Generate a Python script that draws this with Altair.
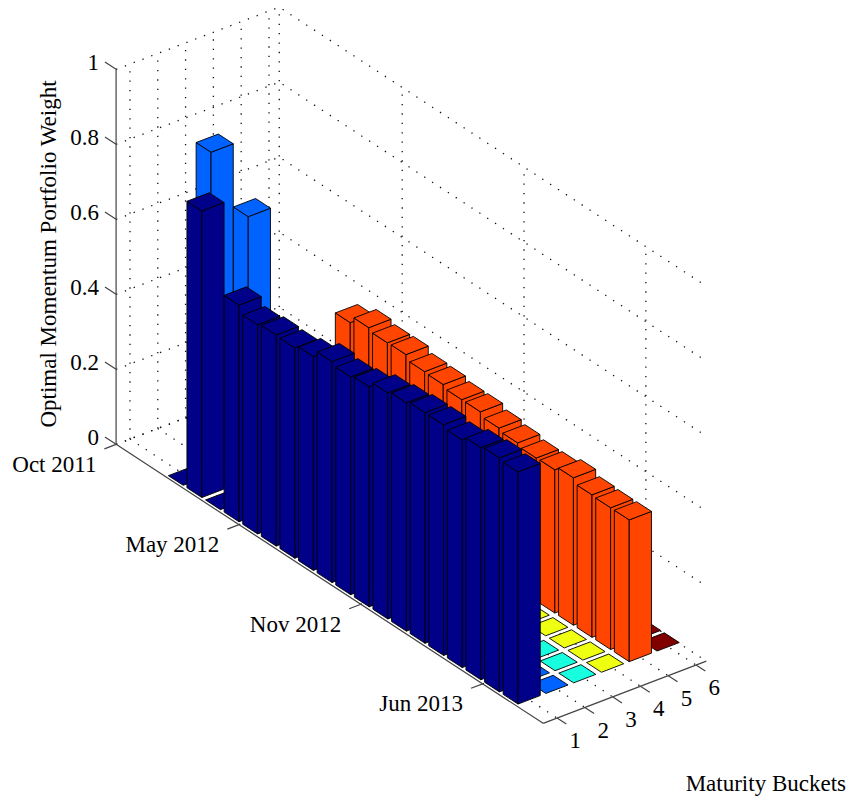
import altair as alt

# ---- values ----
periods = list(range(1, 20))
buckets = [1, 2, 3, 4, 5, 6]
w1 = [0, .764, 0, .578, .558, .563, .561, .570, .589, .581, .587, .603, .609, .615, .615, .607, .619, .624, .619]
w2 = [.86, 0, .753, 0, 0, 0, 0, 0, 0, 0, 0, 0, 0, 0, 0, 0, 0, 0, 0]
w3 = [0] * 19
w4 = [0] * 19
w5 = [.14, .236, .247, .418, .437, .429, .43, .417, .415, .407, .407, .396, .389, .381, .382, .393, .38, .378, .378]
w6 = [0] * 19
series = [w1, w2, w3, w4, w5, w6]
colors = ["#000088", "#0062FF", "#18FFE0", "#EEFF12", "#FF4500", "#800000"]
z_ticks = [0, .2, .4, .6, .8, 1]
z_labels = ["0", "0.2", "0.4", "0.6", "0.8", "1"]
t_ticks = [-2.06, 4.55, 11.1, 17.65]
t_labels = ["Oct 2011", "May 2012", "Nov 2012", "Jun 2013"]
t_lim = (-2.06, 20.9)
m_lim = (0.5, 6.37)
bar_width = 0.8
font = "Liberation Serif"
font_size = 23
W, H = 839, 788


def P(t, m, z=0.0):
    """Orthographic projection of (period, bucket, weight) to chart pixels."""
    return [140.5 + 18.6 * t + 27.8 * m - 8, 474.7 + 12.15 * t - 10.6 * m - 375 * z - 8]


def feat(coords, kind="Polygon", **props):
    geom = coords + [coords[0]] if kind == "Polygon" else coords
    return {"type": "Feature", "properties": props,
            "geometry": {"type": kind, "coordinates": [geom] if kind == "Polygon" else geom}}


t0, t1 = t_lim
m0, m1 = m_lim

# walls and floor grid
grid = []
for z in z_ticks:
    grid.append(feat([P(t0, m0, z), P(t0, m1, z), P(t1, m1, z)], "LineString"))
for m in buckets:
    grid.append(feat([P(t0, m, 0), P(t0, m, 1)], "LineString"))
    grid.append(feat([P(t0, m, 0), P(t1, m, 0)], "LineString"))
for t in t_ticks:
    grid.append(feat([P(t, m1, 0), P(t, m1, 1)], "LineString"))
    grid.append(feat([P(t, m0, 0), P(t, m1, 0)], "LineString"))

# axes
TICK_M = 0.42
TICK_T = 0.5
TICK_Z = 0.6
axes = [feat([P(t0, m0, 0), P(t0, m0, 1)], "LineString"),
        feat([P(t0, m0, 0), P(t1, m0, 0)], "LineString"),
        feat([P(t1, m0, 0), P(t1, m1, 0)], "LineString")]
for z in z_ticks:
    axes.append(feat([P(t0, m0, z), P(t0 - TICK_Z, m0, z)], "LineString"))
for t in t_ticks:
    axes.append(feat([P(t, m0, 0), P(t, m0 - TICK_M, 0)], "LineString"))
for m in buckets:
    axes.append(feat([P(t1, m, 0), P(t1 + TICK_T, m, 0)], "LineString"))

# bars, painted back to front
faces = []
hw = bar_width / 2
for mi in reversed(range(6)):
    m = buckets[mi]
    for ti, t in enumerate(periods):
        v = series[mi][ti]
        c = colors[mi]
        a, b = t - hw, t + hw
        l, r = m - hw, m + hw
        if v > 0:
            faces.append(feat([P(a, l, 0), P(b, l, 0), P(b, l, v), P(a, l, v)], fill=c))
            faces.append(feat([P(b, l, 0), P(b, r, 0), P(b, r, v), P(b, l, v)], fill=c))
        faces.append(feat([P(a, l, v), P(b, l, v), P(b, r, v), P(a, r, v)], fill=c))

# labels
texts = []
for z, s in zip(z_ticks, z_labels):
    p = P(t0 - TICK_Z, m0, z)
    texts.append({"x": p[0] - 6, "y": p[1] + 0.5, "s": s, "a": "right"})
for t, s in zip(t_ticks, t_labels):
    p = P(t, m0 - TICK_M, 0)
    texts.append({"x": p[0] - 8, "y": p[1] + 16, "s": s, "a": "right"})
for m in buckets:
    p = P(t1 + TICK_T, m, 0)
    texts.append({"x": p[0] + 9, "y": p[1] + 17, "s": str(m), "a": "center"})
texts.append({"x": 838, "y": 776, "s": "Maturity Buckets", "a": "right"})

grid_layer = alt.Chart(alt.Data(values=grid)).mark_geoshape(
    filled=False, stroke="#111111", strokeWidth=1.3, strokeDash=[1.3, 8.1]
).project(type="identity", scale=1, translate=[0, 0])
axes_layer = alt.Chart(alt.Data(values=axes)).mark_geoshape(
    filled=False, stroke="#444444", strokeWidth=1.2
).project(type="identity", scale=1, translate=[0, 0])
bars_layer = alt.Chart(alt.Data(values=faces)).mark_geoshape(
    stroke="#000000", strokeWidth=0.9, strokeJoin="round"
).encode(
    fill=alt.Fill("properties.fill:N", scale=None)
).project(type="identity", scale=1, translate=[0, 0])

xs = alt.X("x:Q", scale=alt.Scale(domain=[0, W], range=[0, W]), axis=None)
ys = alt.Y("y:Q", scale=alt.Scale(domain=[0, H], range=[0, H]), axis=None)
enc = dict(x=xs, y=ys, text="s:N")
layers = []
for anchor in ["right", "center"]:
    layers.append(
        alt.Chart(alt.Data(values=[d for d in texts if d["a"] == anchor])).mark_text(
            font=font, fontSize=font_size, color="#000000", align=anchor, baseline="middle"
        ).encode(**enc)
    )
ylabel = alt.Chart(alt.Data(values=[{"x": 41, "y": 246, "s": "Optimal Momentum Portfolio Weight"}])).mark_text(
    font=font, fontSize=font_size, color="#000000", align="center", baseline="middle", angle=270
).encode(**enc)

chart = alt.layer(grid_layer, axes_layer, bars_layer, *layers, ylabel).properties(
    width=W, height=H, padding=0, autosize=alt.AutoSizeParams(type="none"), background="white"
).configure_view(stroke=None)

chart.save("out.html", embed_options={"renderer": "svg", "actions": False})
